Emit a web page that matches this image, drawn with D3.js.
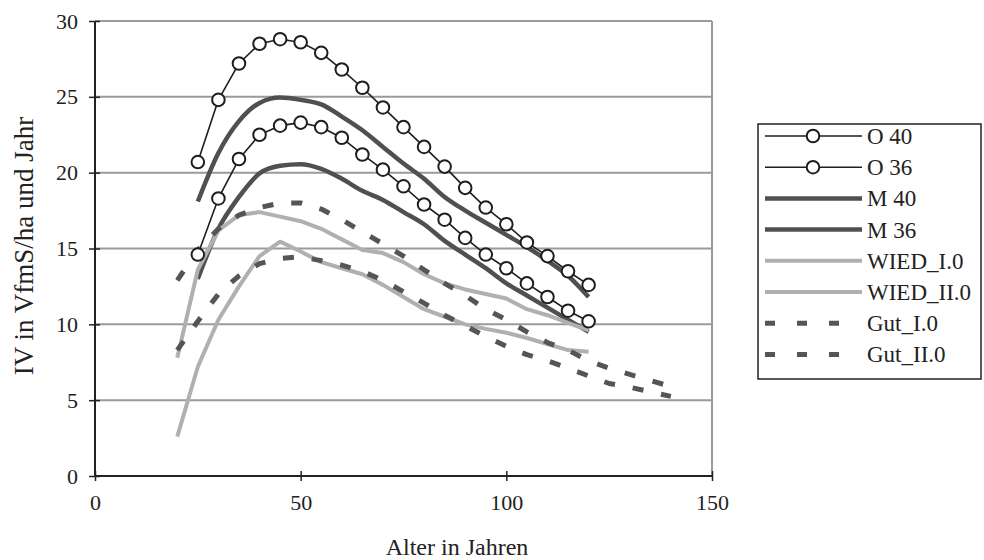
<!DOCTYPE html>
<html>
<head>
<meta charset="utf-8">
<script src="https://cdn.jsdelivr.net/npm/d3@7"></script>
<style>
    body { margin: 0; background: #fff; }
    svg { font-family: "Liberation Serif", "Times New Roman", serif; }
</style>
</head>
<body>
<div id="chart"></div>
<script>
// ages (x values)
const ageO = [25, 30, 35, 40, 45, 50, 55, 60, 65, 70, 75, 80, 85, 90, 95, 100, 105, 110, 115, 120];
const ageW = [20, 25, 30, 35, 40, 45, 50, 55, 60, 65, 70, 75, 80, 85, 90, 95, 100, 105, 110, 115, 120];
const ageG = [20, 25, 30, 35, 40, 45, 50, 55, 60, 65, 70, 75, 80, 85, 90, 95, 100, 105, 110, 115, 120, 125, 130, 135, 140];

const o40 = [20.7, 24.8, 27.2, 28.5, 28.8, 28.6, 27.9, 26.8, 25.6, 24.3, 23.0, 21.7, 20.4, 19.0, 17.7, 16.6, 15.4, 14.5, 13.5, 12.6];
const o36 = [14.6, 18.3, 20.9, 22.5, 23.1, 23.3, 23.0, 22.3, 21.2, 20.2, 19.1, 17.9, 16.9, 15.7, 14.6, 13.7, 12.7, 11.8, 10.9, 10.2];
const m40 = [18.1, 21.3, 23.4, 24.6, 24.95, 24.8, 24.5, 23.7, 22.8, 21.7, 20.6, 19.6, 18.4, 17.5, 16.7, 15.9, 15.1, 14.2, 13.2, 11.8];
const m36 = [13.0, 16.3, 18.4, 19.95, 20.45, 20.55, 20.25, 19.6, 18.8, 18.2, 17.4, 16.6, 15.5, 14.6, 13.7, 12.7, 11.9, 11.1, 10.3, 9.5];
const wied1 = [7.8, 13.6, 16.2, 17.2, 17.4, 17.1, 16.8, 16.3, 15.6, 14.9, 14.7, 14.1, 13.3, 12.7, 12.3, 12.0, 11.7, 11.0, 10.6, 10.1, 9.6];
const wied2 = [2.6, 7.2, 10.3, 12.5, 14.5, 15.45, 14.8, 14.1, 13.7, 13.3, 12.6, 11.8, 11.0, 10.5, 10.0, 9.7, 9.45, 9.1, 8.7, 8.3, 8.2];
const gut1 = [12.9, 14.9, 16.3, 17.2, 17.7, 18.0, 18.0, 17.6, 16.9, 16.1, 15.3, 14.5, 13.6, 12.7, 11.9, 11.0, 10.3, 9.5, 8.8, 8.3, 7.6, 7.1, 6.7, 6.3, 5.9];
const gut2 = [8.3, 10.2, 12.0, 13.2, 14.0, 14.35, 14.45, 14.2, 13.9, 13.5, 12.9, 12.15, 11.4, 10.6, 9.9, 9.2, 8.55, 8.0, 7.6, 7.1, 6.6, 6.1, 5.85, 5.55, 5.25];

const xTicks = [0, 50, 100, 150];
const yTicks = [0, 5, 10, 15, 20, 25, 30];

const seriesNames = ["O 40", "O 36", "M 40", "M 36", "WIED_I.0", "WIED_II.0", "Gut_I.0", "Gut_II.0"];

const styles = {
    O: {stroke: "#1e1e1e", width: 1.6, dash: null, marker: true, curve: d3.curveLinear},
    M: {stroke: "#505050", width: 4.5, dash: null, marker: false, curve: d3.curveMonotoneX},
    W: {stroke: "#b0b0b0", width: 4, dash: null, marker: false, curve: d3.curveLinear},
    G: {stroke: "#555555", width: 5, dash: "11,18", marker: false, curve: d3.curveLinear},
};

const series = [
    {name: seriesNames[0], x: ageO, y: o40, style: styles.O},
    {name: seriesNames[1], x: ageO, y: o36, style: styles.O},
    {name: seriesNames[2], x: ageO, y: m40, style: styles.M},
    {name: seriesNames[3], x: ageO, y: m36, style: styles.M},
    {name: seriesNames[4], x: ageW, y: wied1, style: styles.W},
    {name: seriesNames[5], x: ageW, y: wied2, style: styles.W},
    {name: seriesNames[6], x: ageG, y: gut1, style: styles.G},
    {name: seriesNames[7], x: ageG, y: gut2, style: styles.G},
];

const plot = {left: 95, right: 712, top: 21, bottom: 476};

function main() {
    const svg = d3.select("#chart")
        .append("svg")
        .attr("width", 984)
        .attr("height", 560);

    const x = d3.scaleLinear().domain([0, 150]).range([plot.left, plot.right]);
    const y = d3.scaleLinear().domain([0, 30]).range([plot.bottom, plot.top]);

    // grid lines + right border
    svg.append("g")
        .selectAll("line")
        .data(yTicks.filter(d => d > 0))
        .enter()
        .append("line")
        .attr("x1", plot.left)
        .attr("x2", plot.right)
        .attr("y1", d => y(d))
        .attr("y2", d => y(d))
        .attr("stroke", "#9a9a9a")
        .attr("stroke-width", 2);

    svg.append("line")
        .attr("x1", plot.right)
        .attr("x2", plot.right)
        .attr("y1", plot.top)
        .attr("y2", plot.bottom)
        .attr("stroke", "#9a9a9a")
        .attr("stroke-width", 2);

    // axes
    const xAxis = svg.append("g")
        .attr("transform", `translate(0, ${plot.bottom})`)
        .call(d3.axisBottom(x).tickValues(xTicks).tickSize(5).tickPadding(13));
    xAxis.select(".domain").attr("stroke", "#222").attr("stroke-width", 2).attr("d", `M${plot.left},0H${plot.right}`);
    xAxis.selectAll(".tick line").attr("y1", -5).attr("y2", 5).attr("stroke", "#222").attr("stroke-width", 1.5);
    xAxis.selectAll(".tick text")
        .attr("font-family", "Liberation Serif")
        .attr("font-size", 22)
        .attr("fill", "#222");

    const yAxis = svg.append("g")
        .attr("transform", `translate(${plot.left}, 0)`)
        .call(d3.axisLeft(y).tickValues(yTicks).tickSize(5).tickPadding(12));
    yAxis.select(".domain").attr("stroke", "#222").attr("stroke-width", 2).attr("d", `M0,${plot.bottom}V${plot.top}`);
    yAxis.selectAll(".tick line").attr("x1", -6).attr("x2", 5).attr("stroke", "#222").attr("stroke-width", 1.5);
    yAxis.selectAll(".tick text")
        .attr("font-family", "Liberation Serif")
        .attr("font-size", 22)
        .attr("fill", "#222");

    // titles
    svg.append("text")
        .attr("x", 457)
        .attr("y", 555)
        .attr("text-anchor", "middle")
        .attr("font-size", 24)
        .attr("fill", "#222")
        .text("Alter in Jahren");

    svg.append("text")
        .attr("transform", "translate(33, 246) rotate(-90)")
        .attr("text-anchor", "middle")
        .attr("font-size", 27)
        .attr("fill", "#222")
        .text("IV in VfmS/ha und Jahr");

    // lines in series order
    svg.append("g")
        .selectAll("path")
        .data(series)
        .enter()
        .append("path")
        .attr("d", s => d3.line()
            .x(d => x(d[0]))
            .y(d => y(d[1]))
            .curve(s.style.curve)(s.x.map((a, i) => [a, s.y[i]])))
        .attr("fill", "none")
        .attr("stroke", s => s.style.stroke)
        .attr("stroke-width", s => s.style.width)
        .attr("stroke-dasharray", s => s.style.dash)
        .attr("stroke-linejoin", "round");

    // circle markers on top
    series.filter(s => s.style.marker).forEach(s => {
        svg.append("g")
            .selectAll("circle")
            .data(s.x.map((a, i) => [a, s.y[i]]))
            .enter()
            .append("circle")
            .attr("cx", d => x(d[0]))
            .attr("cy", d => y(d[1]))
            .attr("r", 6.3)
            .attr("fill", "#fff")
            .attr("stroke", "#1e1e1e")
            .attr("stroke-width", 2);
    });

    // legend
    const legend = svg.append("g");
    legend.append("rect")
        .attr("x", 758)
        .attr("y", 124)
        .attr("width", 223)
        .attr("height", 255)
        .attr("fill", "#fff")
        .attr("stroke", "#222")
        .attr("stroke-width", 1.5);

    const rowStep = 31.2;
    const item = legend.selectAll(".item")
        .data(series)
        .enter()
        .append("g")
        .attr("transform", (d, i) => `translate(0, ${136 + i * rowStep})`);

    item.append("line")
        .attr("x1", 765)
        .attr("x2", s => s.style.dash ? 845 : 862)
        .attr("stroke", s => s.style.stroke)
        .attr("stroke-width", s => s.style.width)
        .attr("stroke-dasharray", s => s.style.dash ? "10,22" : null);

    item.filter(s => s.style.marker)
        .append("circle")
        .attr("cx", 813)
        .attr("r", 6.3)
        .attr("fill", "#fff")
        .attr("stroke", "#1e1e1e")
        .attr("stroke-width", 2);

    item.append("text")
        .attr("x", 867)
        .attr("dy", "0.35em")
        .attr("font-size", 23)
        .attr("fill", "#222")
        .text(s => s.name);
}

main()
</script>
</body>
</html>
